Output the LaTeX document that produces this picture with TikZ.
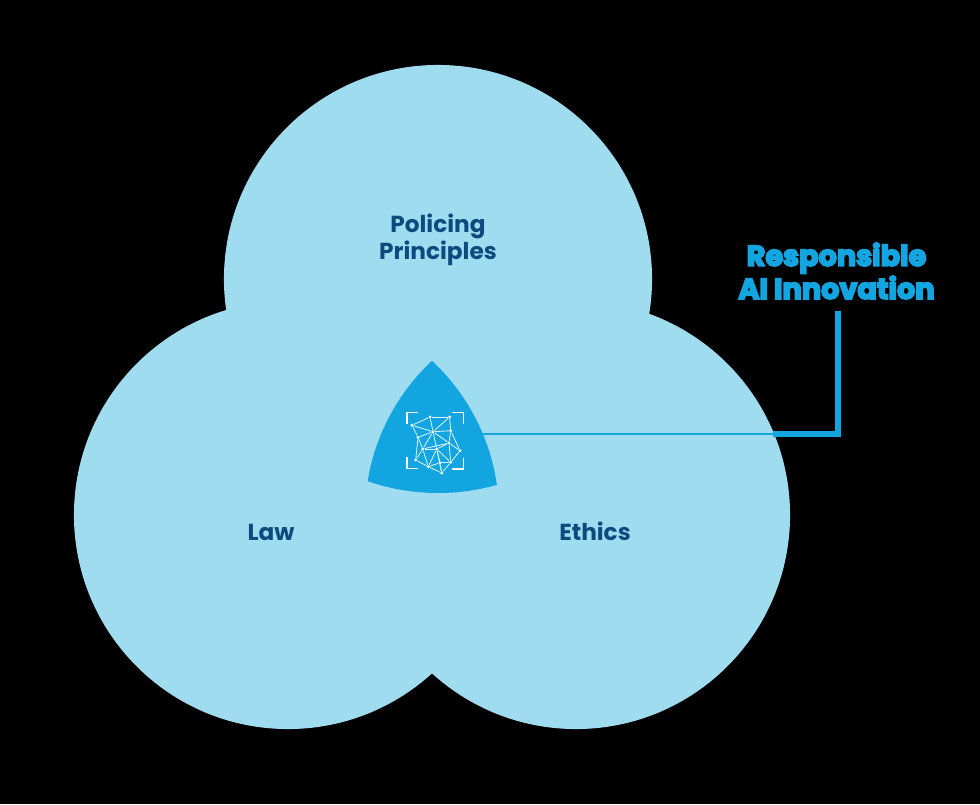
\documentclass[tikz,border=0pt]{standalone}
\usepackage{fontspec}
\setmainfont{Poppins}
\newfontfamily\fatfont[FakeBold=6]{Poppins Bold}
\usetikzlibrary{positioning}
\definecolor{vennfill}{RGB}{160,220,240}
\definecolor{corefill}{RGB}{18,165,224}
\definecolor{labelblue}{RGB}{13,74,126}
\tikzset{
  venn/.style={circle, fill=vennfill, inner sep=0pt, minimum size=10.7cm},
  setlab/.style={font=\fontsize{16.5}{19}\selectfont\bfseries, text=labelblue, align=center, inner sep=0pt},
  corelab/.style={font=\fontsize{20.4}{23.5}\selectfont\fatfont, text=corefill, align=center, inner sep=0pt},
  leader/.style={draw=corefill, line width=1pt},
  leaderfat/.style={draw=corefill, line width=3.9pt, line join=miter},
  bracket/.style={draw=white, line width=1.4pt},
  meshline/.style={draw=white!85!corefill, line width=0.6pt},
  meshdot/.style={circle, fill=white, inner sep=0pt, minimum size=2.4pt},
}
\begin{document}
\begin{tikzpicture}[x=0.025cm,y=-0.025cm]

% ===================== background and the three sets =====================
\fill[black] (0,0) rectangle (980,804);
\node[venn] (police) at (438,279) {};
\node[venn] (law) at (288,515) {};
\node[venn] (ethics) at (576,515) {};

% ---- the common part of all three ----------------------------------------
\begin{scope}
  \clip (law.center) circle (211);
  \clip (ethics.center) circle (211);
  \fill[corefill] (police.center) circle (214);
\end{scope}

% ===================== labels =============================================
\node[setlab] (policelab) at (438,240) {Policing\\Principles};
\node[setlab] (lawlab) at (271,532) {Law};
\node[setlab] (ethicslab) at (595,531.5) {Ethics};
\node[corelab] (corelab) at (836.5,271) {Responsible\\AI Innovation};

% ===================== leader =============================================
\coordinate (coreedge) at (483,434);
\coordinate (elbow) at (838,434);
\coordinate (thickstart) at (773,434);
\coordinate (labfoot) at (838,311);
\draw[leader] (coreedge) -- (thickstart);
\draw[leaderfat] (thickstart) -- (elbow) -- (labfoot);

% ===================== icon ===============================================
\draw[bracket] (418,412.5) -- (407,412.5) -- (407,424);
\draw[bracket] (452,412.5) -- (463.5,412.5) -- (463.5,424);
\draw[bracket] (407,457) -- (407,468.5) -- (418,468.5);
\draw[bracket] (463.5,458) -- (463.5,469) -- (452,469);

\foreach \n/\x/\y in {a/412/425.3,b/430/417,c/449.7/417,d/433/431.7,e/450.7/430.7,
    f/418/437.3,g/449/443,h/422.7/449,i/436.7/449,j/460/450.7,k/415.7/460,
    l/428.3/466.7,m/440/462.7,n/450.7/462.3,o/441.7/473}
  \node[meshdot] (\n) at (\x,\y) {};
\foreach \p/\q in {a/b,b/c,a/d,b/d,c/d,d/e,c/e,a/f,f/d,f/h,f/k,d/h,d/i,d/g,e/g,e/j,g/j,g/i,
    g/h,h/i,h/k,k/l,h/l,i/l,i/m,i/n,g/n,j/n,n/m,m/l,l/o,m/o,n/o,i/o}
  \draw[meshline] (\p) -- (\q);

\end{tikzpicture}
\end{document}
